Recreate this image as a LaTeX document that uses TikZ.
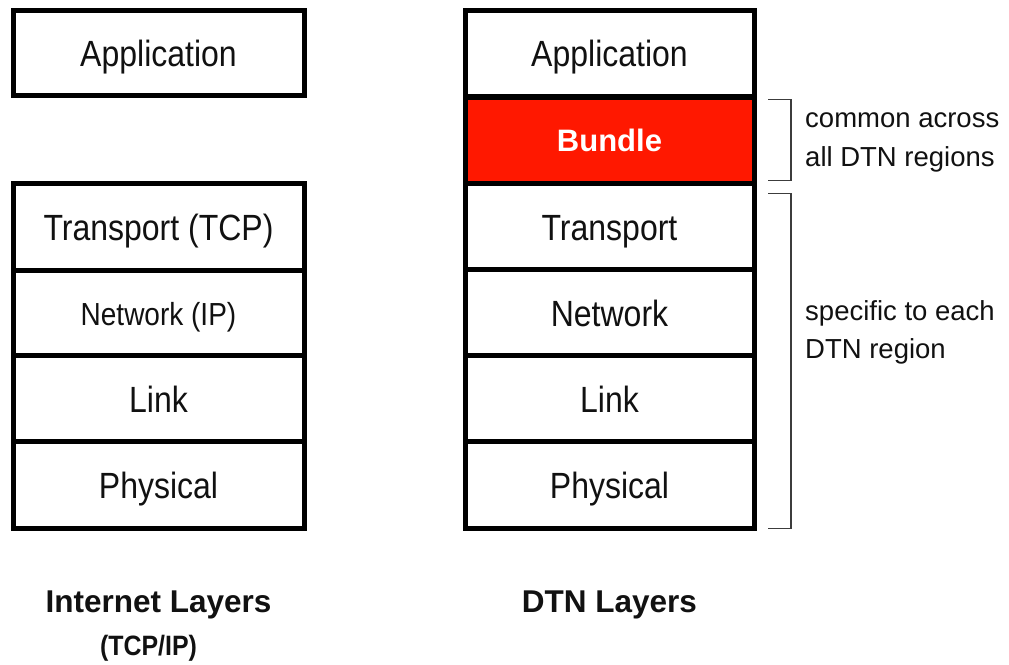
\documentclass[tikz,border=0pt]{standalone}
\usepackage{fontspec}
\setmainfont{Liberation Sans}
\definecolor{bundlered}{RGB}{255,24,0}
\definecolor{txt}{RGB}{17,17,17}
\definecolor{brk}{RGB}{60,60,60}
\newcommand{\tallt}[1]{\scalebox{1}[1.14]{#1}}
\begin{document}
\begin{tikzpicture}[x=1pt,y=-1pt,
  layer/.style={draw=black, line width=5pt, fill=white, minimum height=86.5pt,
    inner sep=0pt, outer sep=0pt, text=txt, font=\fontsize{32}{38}\selectfont,
    text height=26pt, text depth=0pt},
  leftlayer/.style={layer, minimum width=291pt},
  rightlayer/.style={layer, minimum width=289pt},
  note/.style={anchor=base west, inner sep=0pt, text=txt, font=\fontsize{27.5}{33}\selectfont},
  caption/.style={anchor=base, inner sep=0pt, text=txt, font=\bfseries\fontsize{31.5}{36}\selectfont},
  bracket/.style={draw=brk, line width=1.3pt}
]
\useasboundingbox (0,0) rectangle (1009,664);

% Internet stack
\node[leftlayer, minimum height=85.5pt] (lapp) at (158.5,53) {\tallt{Application}};
\node[leftlayer] (ltrans) at (158.5,227) {\tallt{Transport (TCP)}};
\node[leftlayer, font=\fontsize{28}{34}\selectfont, text height=23pt] (lnet) at (158.5,314) {\tallt{Network (IP)}};
\node[leftlayer] (llink) at (158.5,399) {\tallt{Link}};
\node[leftlayer] (lphys) at (158.5,485) {\tallt{Physical}};

% DTN stack
\node[rightlayer] (rapp) at (609.5,53.5) {\tallt{Application}};
\node[rightlayer, fill=bundlered, text=white, font=\bfseries\fontsize{31}{36}\selectfont, text height=22pt] (rbundle) at (609.5,140.5) {Bundle};
\node[rightlayer] (rtrans) at (609.5,227) {\tallt{Transport}};
\node[rightlayer] (rnet) at (609.5,313) {\tallt{Network}};
\node[rightlayer] (rlink) at (609.5,399) {\tallt{Link}};
\node[rightlayer] (rphys) at (609.5,485) {\tallt{Physical}};

% brackets
\coordinate (b1a) at ([xshift=14pt,yshift=-2pt]rbundle.north east);
\coordinate (b1b) at ([xshift=37pt,yshift=-2pt]rbundle.north east);
\coordinate (b1c) at ([xshift=37pt,yshift=3pt]rbundle.south east);
\coordinate (b1d) at ([xshift=14pt,yshift=3pt]rbundle.south east);
\draw[bracket] (b1a) -- (b1b) -- (b1c) -- (b1d);
\coordinate (b2a) at ([xshift=14pt,yshift=-10pt]rtrans.north east);
\coordinate (b2b) at ([xshift=37pt,yshift=-10pt]rtrans.north east);
\coordinate (b2c) at ([xshift=37pt]rphys.south east);
\coordinate (b2d) at ([xshift=14pt]rphys.south east);
\draw[bracket] (b2a) -- (b2b) -- (b2c) -- (b2d);

% notes
\node[note] (n1) at (805,127) {common across};
\node[note] (n2) at (805,166) {all DTN regions};
\node[note] (n3) at (805,320) {specific to each};
\node[note] (n4) at (805,358) {DTN region};

% captions
\node[caption] (cap1) at (158.5,612) {Internet Layers};
\node[caption, font=\bfseries\fontsize{28}{32}\selectfont] (cap1b) at (148.5,655) {\scalebox{0.89}[1]{(TCP/IP)}};
\node[caption] (cap2) at (609.5,612) {DTN Layers};
\end{tikzpicture}
\end{document}
